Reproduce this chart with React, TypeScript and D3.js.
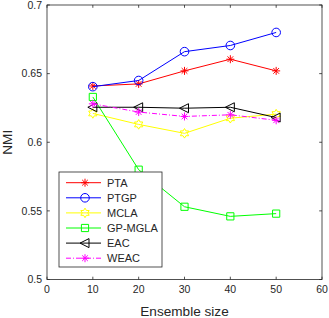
import React, { useEffect, useRef } from "react";
import * as d3 from "d3";

const sizes = [10, 20, 30, 40, 50];
const pta = [0.641, 0.6425, 0.652, 0.6605, 0.652];
const ptgp = [0.6405, 0.645, 0.666, 0.6705, 0.68];
const mcla = [0.621, 0.613, 0.6065, 0.6175, 0.6205];
const gpmgla = [0.633, 0.58, 0.553, 0.546, 0.548];
const eac = [0.6255, 0.6255, 0.6248, 0.6255, 0.618];
const weac = [0.628, 0.622, 0.6188, 0.62, 0.616];

const xTicks = [0, 10, 20, 30, 40, 50, 60];
const yTicks = [0.5, 0.55, 0.6, 0.65, 0.7];

const series = [
  { name: "PTA", values: pta, color: "#ff0000", marker: "asterisk", dash: null },
  { name: "PTGP", values: ptgp, color: "#0000ff", marker: "circle", dash: null },
  { name: "MCLA", values: mcla, color: "#ffff00", marker: "hexagram", dash: null },
  { name: "GP-MGLA", values: gpmgla, color: "#00ff00", marker: "square", dash: null },
  { name: "EAC", values: eac, color: "#000000", marker: "triangle", dash: null },
  { name: "WEAC", values: weac, color: "#ff00ff", marker: "asterisk", dash: "5,2,1,2" },
];

// marker path centred on 0,0
function markerPath(kind: string): string {
  if (kind === "asterisk") {
    const r = 4;
    const p = d3.path();
    for (let i = 0; i < 4; i++) {
      const a = (i * Math.PI) / 4;
      p.moveTo(-r * Math.cos(a), -r * Math.sin(a));
      p.lineTo(r * Math.cos(a), r * Math.sin(a));
    }
    return p.toString();
  }
  if (kind === "circle") {
    const p = d3.path();
    p.arc(0, 0, 4.3, 0, 2 * Math.PI);
    p.closePath();
    return p.toString();
  }
  if (kind === "square") {
    return "M-3.6,-3.6L3.6,-3.6L3.6,3.6L-3.6,3.6Z";
  }
  if (kind === "triangle") {
    return "M-5,0L4,-4.5L4,4.5Z";
  }
  // hexagram
  const pts: string[] = [];
  for (let i = 0; i < 12; i++) {
    const r = i % 2 === 0 ? 4.8 : 2.8;
    const a = -Math.PI / 2 + (i * Math.PI) / 6;
    pts.push(`${r * Math.cos(a)},${r * Math.sin(a)}`);
  }
  return "M" + pts.join("L") + "Z";
}

export default function App() {
  const ref = useRef<SVGSVGElement>(null);

  useEffect(() => {
    const svg = d3.select(ref.current);
    svg.selectAll("*").remove();

    const left = 47;
    const right = 322;
    const top = 5;
    const bottom = 279.5;
    const axisColor = "#262626";
    const font = "'Liberation Sans', Arial, Helvetica, sans-serif";

    const x = d3.scaleLinear().domain([0, 60]).range([left, right]);
    const y = d3.scaleLinear().domain([0.5, 0.7]).range([bottom, top]);

    svg
      .append("rect")
      .attr("x", left)
      .attr("y", top)
      .attr("width", right - left)
      .attr("height", bottom - top)
      .attr("fill", "#fff");

    const g = svg.append("g");

    // lines and markers
    series.forEach((s) => {
      const line = d3
        .line<number>()
        .x((_, i) => x(sizes[i]))
        .y((d) => y(d));
      g.append("path")
        .attr("d", line(s.values))
        .attr("fill", "none")
        .attr("stroke", s.color)
        .attr("stroke-width", 1)
        .attr("stroke-dasharray", s.dash);
      g.selectAll(null)
        .data(s.values)
        .enter()
        .append("path")
        .attr("d", markerPath(s.marker))
        .attr("transform", (d, i) => `translate(${x(sizes[i])},${y(d)})`)
        .attr("fill", "none")
        .attr("stroke", s.color)
        .attr("stroke-width", 1);
    });

    // box and ticks
    const ax = svg.append("g");
    ax.append("rect")
      .attr("x", left)
      .attr("y", top)
      .attr("width", right - left)
      .attr("height", bottom - top)
      .attr("fill", "none")
      .attr("stroke", axisColor)
      .attr("stroke-width", 0.8);

    const tl = 2.8;
    xTicks.forEach((t) => {
      ax.append("line")
        .attr("x1", x(t)).attr("x2", x(t))
        .attr("y1", bottom).attr("y2", bottom - tl)
        .attr("stroke", axisColor).attr("stroke-width", 0.8);
      ax.append("line")
        .attr("x1", x(t)).attr("x2", x(t))
        .attr("y1", top).attr("y2", top + tl)
        .attr("stroke", axisColor).attr("stroke-width", 0.8);
      ax.append("text")
        .attr("x", x(t))
        .attr("y", bottom + 13.5)
        .attr("text-anchor", "middle")
        .attr("font-family", font)
        .attr("font-size", 10.5)
        .attr("fill", axisColor)
        .text(String(t));
    });

    yTicks.forEach((t) => {
      ax.append("line")
        .attr("x1", left).attr("x2", left + tl)
        .attr("y1", y(t)).attr("y2", y(t))
        .attr("stroke", axisColor).attr("stroke-width", 0.8);
      ax.append("line")
        .attr("x1", right).attr("x2", right - tl)
        .attr("y1", y(t)).attr("y2", y(t))
        .attr("stroke", axisColor).attr("stroke-width", 0.8);
      ax.append("text")
        .attr("x", left - 5)
        .attr("y", y(t))
        .attr("dy", "0.35em")
        .attr("text-anchor", "end")
        .attr("font-family", font)
        .attr("font-size", 10.5)
        .attr("fill", axisColor)
        .text(String(t));
    });

    ax.append("text")
      .attr("x", (left + right) / 2)
      .attr("y", 316)
      .attr("text-anchor", "middle")
      .attr("font-family", font)
      .attr("font-size", 13.6)
      .attr("fill", axisColor)
      .text("Ensemble size");

    ax.append("text")
      .attr("transform", `translate(12,${(top + bottom) / 2}) rotate(-90)`)
      .attr("text-anchor", "middle")
      .attr("font-family", font)
      .attr("font-size", 13.6)
      .attr("fill", axisColor)
      .text("NMI");

    // legend
    const lg = svg.append("g").attr("transform", "translate(59,172)");
    lg.append("rect")
      .attr("width", 103)
      .attr("height", 95)
      .attr("fill", "#fff")
      .attr("stroke", axisColor)
      .attr("stroke-width", 0.8);
    series.forEach((s, i) => {
      const yy = 10.7 + i * 15.1;
      lg.append("line")
        .attr("x1", 7).attr("x2", 42)
        .attr("y1", yy).attr("y2", yy)
        .attr("stroke", s.color)
        .attr("stroke-width", 1)
        .attr("stroke-dasharray", s.dash);
      lg.append("path")
        .attr("d", markerPath(s.marker))
        .attr("transform", `translate(26,${yy})`)
        .attr("fill", "none")
        .attr("stroke", s.color)
        .attr("stroke-width", 1);
      lg.append("text")
        .attr("x", 48)
        .attr("y", yy)
        .attr("dy", "0.35em")
        .attr("font-family", font)
        .attr("font-size", 11)
        .attr("fill", axisColor)
        .text(s.name);
    });
  }, []);

  return (
    <svg
      ref={ref}
      width="329"
      height="318"
      style={{ position: "absolute", left: 0, top: 0, background: "#fff" }}
    ></svg>
  );
}
